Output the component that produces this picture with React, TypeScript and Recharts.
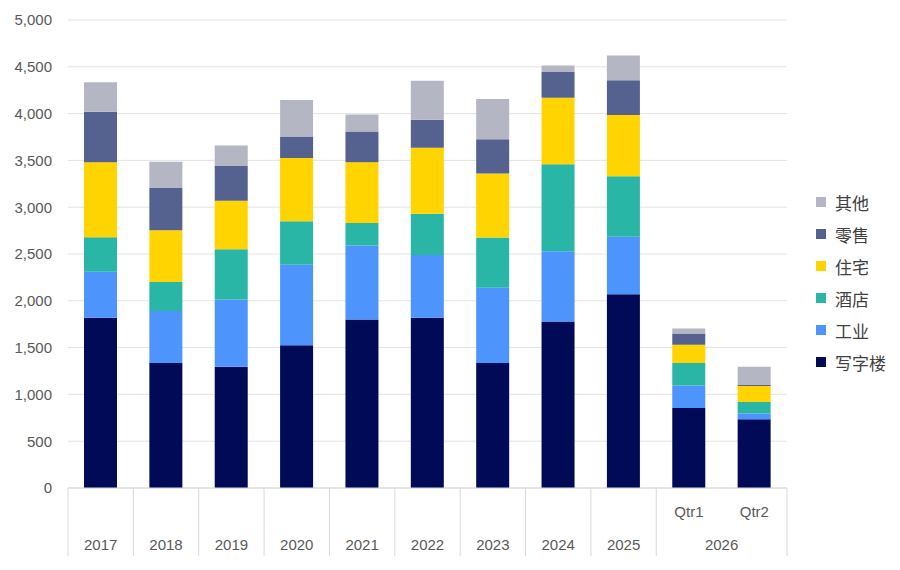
import React from 'react';
import { BarChart, Bar, XAxis, YAxis, CartesianGrid } from 'recharts';

const years = ['2017', '2018', '2019', '2020', '2021', '2022', '2023', '2024', '2025', '2026', '2026'];
const quarters = ['', '', '', '', '', '', '', '', '', 'Qtr1', 'Qtr2'];

const office = [1820, 1335, 1295, 1525, 1800, 1820, 1335, 1780, 2070, 855, 735];
const industrial = [490, 555, 720, 860, 790, 670, 805, 750, 615, 240, 60];
const hotel = [370, 310, 535, 465, 240, 440, 535, 930, 645, 240, 125];
const residential = [800, 555, 520, 675, 650, 705, 685, 710, 655, 195, 170];
const retail = [540, 450, 370, 230, 330, 300, 365, 275, 370, 120, 10];
const other = [315, 280, 220, 390, 180, 415, 430, 70, 265, 55, 195];

const yTicks = [0, 500, 1000, 1500, 2000, 2500, 3000, 3500, 4000, 4500, 5000];

const series = [
  { key: 'office', name: '写字楼', color: '#000a57', values: office },
  { key: 'industrial', name: '工业', color: '#4d94fc', values: industrial },
  { key: 'hotel', name: '酒店', color: '#29b6a6', values: hotel },
  { key: 'residential', name: '住宅', color: '#ffd400', values: residential },
  { key: 'retail', name: '零售', color: '#55628f', values: retail },
  { key: 'other', name: '其他', color: '#b4b6c3', values: other },
];

const data = years.map((year, i) => {
  const row: Record<string, string | number> = { cat: year + quarters[i], year, qtr: quarters[i] };
  series.forEach(s => {
    row[s.key] = s.values[i];
  });
  return row;
});

const FONT = '"Liberation Sans", Arial, sans-serif';
const TEXT = '#595959';
const LINE = '#d9d9d9';

function CategoryTick(props: any) {
  const { x, y, index, width, visibleTicksCount } = props;
  const count = visibleTicksCount || years.length;
  const band = (width || 719) / count;
  const year = years[index];
  const qtr = quarters[index];
  const first = index === 0 || years[index - 1] !== year;
  let span = 1;
  if (first) {
    while (index + span < years.length && years[index + span] === year) span++;
  }
  return (
    <g>
      {first && <line x1={x - band / 2} x2={x - band / 2} y1={y} y2={y + 68} stroke={LINE} />}
      {index === years.length - 1 && (
        <line x1={x + band / 2} x2={x + band / 2} y1={y} y2={y + 68} stroke={LINE} />
      )}
      {qtr && (
        <text x={x} y={y + 29} textAnchor="middle" fill={TEXT} fontSize={15} fontFamily={FONT}>
          {qtr}
        </text>
      )}
      {first && (
        <text
          x={x + ((span - 1) * band) / 2}
          y={y + 62}
          textAnchor="middle"
          fill={TEXT}
          fontSize={15}
          fontFamily={FONT}
        >
          {year}
        </text>
      )}
    </g>
  );
}

export default function App() {
  const legendItems = [...series].reverse();
  return (
    <div style={{ position: 'absolute', left: 0, top: 0, width: 900, height: 570, background: '#fff' }}>
      <BarChart
        width={900}
        height={570}
        data={data}
        margin={{ top: 20, right: 113, bottom: 12, left: 8 }}
        barSize={33}
      >
        <CartesianGrid vertical={false} stroke="#e3e3e3" />
        <XAxis
          dataKey="cat"
          interval={0}
          height={70}
          tickSize={0}
          tickMargin={0}
          tickLine={false}
          axisLine={{ stroke: LINE }}
          tick={<CategoryTick />}
        />
        <YAxis
          width={60}
          domain={[0, 5000]}
          ticks={yTicks}
          axisLine={false}
          tickLine={false}
          tickMargin={10}
          tickFormatter={(v: number) => v.toLocaleString('en-US')}
          tick={{ fill: TEXT, fontSize: 15, fontFamily: FONT }}
        />
        {series.map(s => (
          <Bar key={s.key} dataKey={s.key} name={s.name} stackId="a" fill={s.color} isAnimationActive={false} />
        ))}
      </BarChart>
      <div style={{ position: 'absolute', left: 816, top: 186, fontFamily: '"Noto Sans CJK SC", sans-serif' }}>
        {legendItems.map(s => (
          <div key={s.key} style={{ display: 'flex', alignItems: 'center', height: 32 }}>
            <span style={{ width: 10, height: 10, background: s.color, marginRight: 9 }} />
            <span style={{ fontSize: 17, color: '#404040' }}>{s.name}</span>
          </div>
        ))}
      </div>
    </div>
  );
}
